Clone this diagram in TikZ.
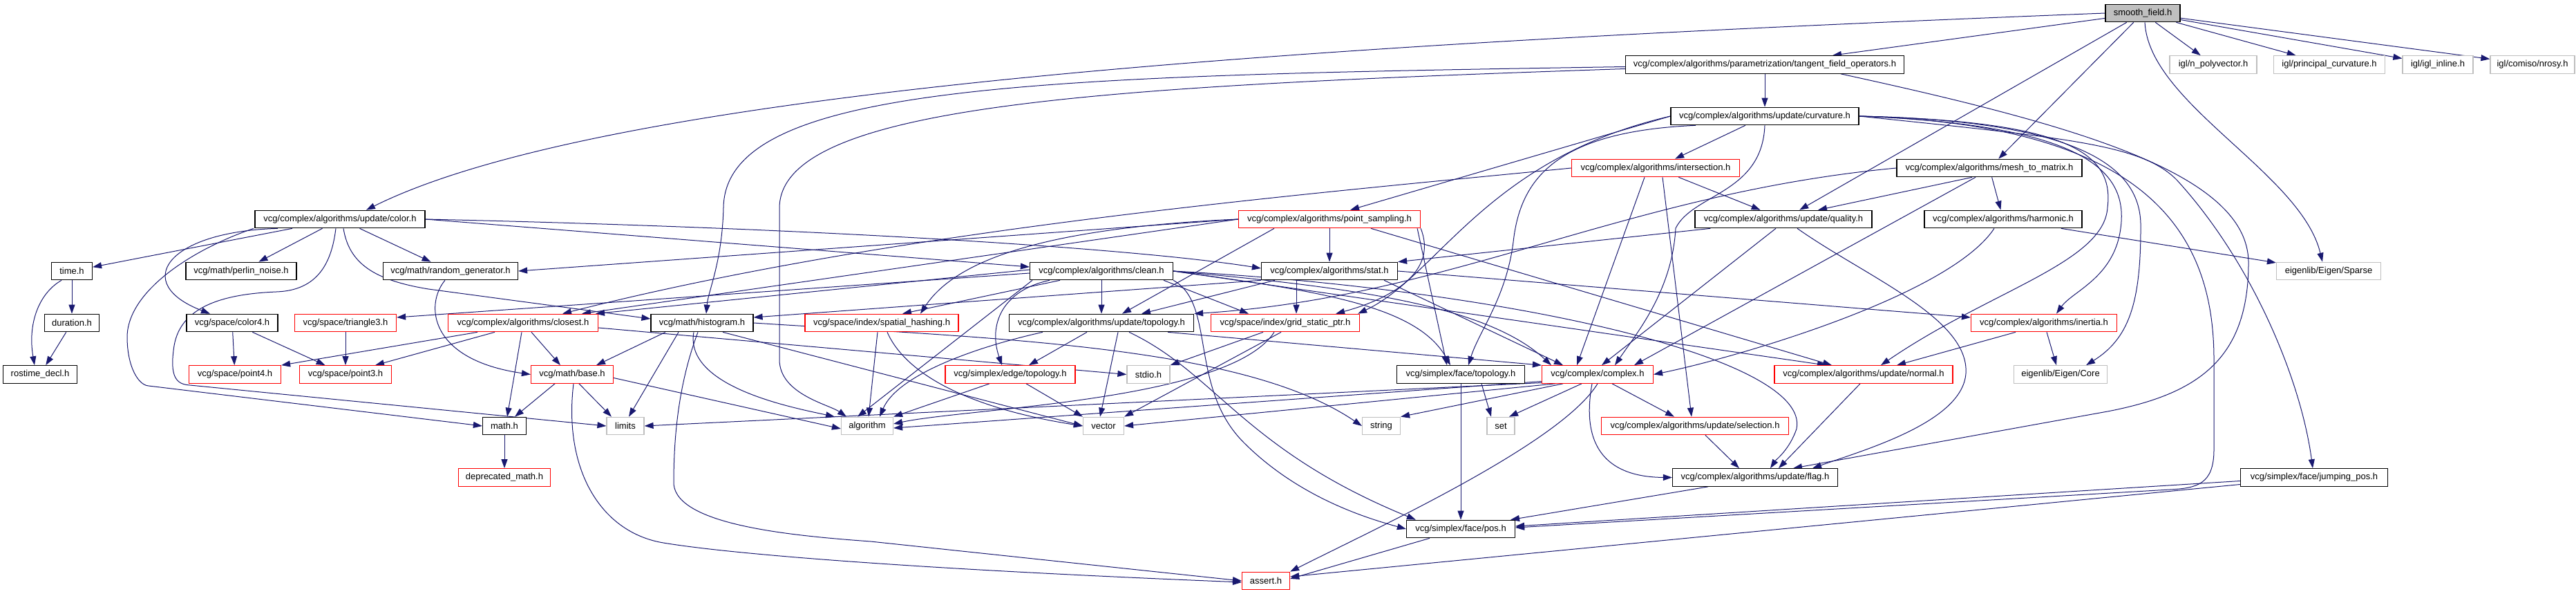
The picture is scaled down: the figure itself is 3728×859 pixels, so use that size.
\documentclass[tikz,border=0pt]{standalone}
\usepackage{fontspec}
\setmainfont{Liberation Sans}
\usetikzlibrary{arrows.meta}
\definecolor{edgec}{HTML}{191970}
\definecolor{redc}{HTML}{FF0000}
\definecolor{grayc}{HTML}{BFBFBF}
\pgfdeclarelayer{bg}
\pgfsetlayers{bg,main}
\tikzset{
 nd/.style={rectangle, minimum height=25.5pt, inner sep=0pt, line width=1.2pt, fill=white, text=black, font=\fontsize{13}{15}\selectfont},
 nb/.style={nd, draw=black},
 nr/.style={nd, draw=redc},
 ng/.style={nd, draw=grayc},
 nroot/.style={nd, draw=black, fill=grayc},
 edg/.style={draw=edgec, line width=1pt, -{Triangle[length=13pt,width=9pt]}},
}
\begin{document}
\begin{tikzpicture}[x=1pt,y=-1pt]
\useasboundingbox (0,0) rectangle (3728,859);
% row 0
\node[nroot, minimum width=108pt] (smooth) at (3101,19) {smooth\_field.h};
% row 1
\node[nb, minimum width=403pt] (tangent) at (2554,93.5) {vcg/complex/algorithms/parametrization/tangent\_field\_operators.h};
\node[ng, minimum width=126pt] (npoly) at (3203,93.5) {igl/n\_polyvector.h};
\node[ng, minimum width=161pt] (princ) at (3371,93.5) {igl/principal\_curvature.h};
\node[ng, minimum width=102pt] (iglinl) at (3528,93.5) {igl/igl\_inline.h};
\node[ng, minimum width=122pt] (nrosy) at (3665,93.5) {igl/comiso/nrosy.h};
% row 2
\node[nb, minimum width=272pt] (curv) at (2554,168) {vcg/complex/algorithms/update/curvature.h};
% row 3
\node[nr, minimum width=243pt] (inters) at (2396,243) {vcg/complex/algorithms/intersection.h};
\node[nb, minimum width=268pt] (m2m) at (2879,243) {vcg/complex/algorithms/mesh\_to\_matrix.h};
% row 4
\node[nb, minimum width=246pt] (color) at (492,317) {vcg/complex/algorithms/update/color.h};
\node[nr, minimum width=263pt] (psamp) at (1924,317) {vcg/complex/algorithms/point\_sampling.h};
\node[nb, minimum width=256pt] (quality) at (2581,317) {vcg/complex/algorithms/update/quality.h};
\node[nb, minimum width=228pt] (harm) at (2899,317) {vcg/complex/algorithms/harmonic.h};
% row 5
\node[nb, minimum width=59pt] (time) at (104,392) {time.h};
\node[nb, minimum width=160pt] (perlin) at (349,392) {vcg/math/perlin\_noise.h};
\node[nb, minimum width=195pt] (rand) at (652,392) {vcg/math/random\_generator.h};
\node[nb, minimum width=207pt] (clean) at (1594,392) {vcg/complex/algorithms/clean.h};
\node[nb, minimum width=197pt] (stat) at (1924,392) {vcg/complex/algorithms/stat.h};
\node[ng, minimum width=151pt] (sparse) at (3370,392) {eigenlib/Eigen/Sparse};
% row 6
\node[nb, minimum width=79pt] (duration) at (104,467) {duration.h};
\node[nb, minimum width=132pt] (color4) at (336,467) {vcg/space/color4.h};
\node[nr, minimum width=147pt] (tri3) at (500,467) {vcg/space/triangle3.h};
\node[nr, minimum width=217pt] (closest) at (757,467) {vcg/complex/algorithms/closest.h};
\node[nb, minimum width=148pt] (hist) at (1016,467) {vcg/math/histogram.h};
\node[nr, minimum width=222pt] (spatial) at (1276,467) {vcg/space/index/spatial\_hashing.h};
\node[nb, minimum width=267pt] (utopo) at (1594,467) {vcg/complex/algorithms/update/topology.h};
\node[nr, minimum width=215pt] (grid) at (1860,467) {vcg/space/index/grid\_static\_ptr.h};
\node[nr, minimum width=211pt] (inertia) at (2958,467) {vcg/complex/algorithms/inertia.h};
% row 7
\node[nb, minimum width=107pt] (rostime) at (58,541.5) {rostime\_decl.h};
\node[nr, minimum width=133pt] (point4) at (340,541.5) {vcg/space/point4.h};
\node[nr, minimum width=133pt] (point3) at (500,541.5) {vcg/space/point3.h};
\node[nr, minimum width=119pt] (base) at (828,541.5) {vcg/math/base.h};
\node[nr, minimum width=188pt] (etopo) at (1462,541.5) {vcg/simplex/edge/topology.h};
\node[ng, minimum width=62pt] (stdio) at (1662,541.5) {stdio.h};
\node[nb, minimum width=185pt] (ftopo) at (2114,541.5) {vcg/simplex/face/topology.h};
\node[nr, minimum width=161pt] (complex) at (2312,541.5) {vcg/complex/complex.h};
\node[nr, minimum width=258pt] (normal) at (2697,541.5) {vcg/complex/algorithms/update/normal.h};
\node[ng, minimum width=135pt] (core) at (2982,541.5) {eigenlib/Eigen/Core};
% row 8
\node[nb, minimum width=63pt] (mathh) at (730,616) {math.h};
\node[ng, minimum width=54pt] (limits) at (905,616) {limits};
\node[ng, minimum width=75pt] (algo) at (1255,616) {algorithm};
\node[ng, minimum width=59pt] (vector) at (1597,616) {vector};
\node[ng, minimum width=55pt] (string) at (1999,616) {string};
\node[ng, minimum width=40pt] (set) at (2172,616) {set};
\node[nr, minimum width=271pt] (select) at (2453,616) {vcg/complex/algorithms/update/selection.h};
% row 9
\node[nr, minimum width=133pt] (depmath) at (730,690.5) {deprecated\_math.h};
\node[nb, minimum width=239pt] (flag) at (2540,690.5) {vcg/complex/algorithms/update/flag.h};
\node[nb, minimum width=213pt] (jump) at (3349,690.5) {vcg/simplex/face/jumping\_pos.h};
% row 10
\node[nb, minimum width=157pt] (pos) at (2114,765) {vcg/simplex/face/pos.h};
% row 11
\node[nr, minimum width=69pt] (assert) at (1832,840) {assert.h};

\begin{pgfonlayer}{bg}
% smooth_field
\draw[edg] (smooth) -- (tangent);
\draw[edg] (smooth.west) .. controls (2000,60) and (900,120) .. ([xshift=38]color.north);
\draw[edg] (smooth) -- (quality);
\draw[edg] (smooth) -- (m2m);
\draw[edg] (smooth) -- (npoly);
\draw[edg] (smooth) -- (princ);
\draw[edg] (smooth) -- (iglinl);
\draw[edg] (smooth) -- (nrosy);
\draw[edg] ([xshift=3]smooth.south) .. controls (3110,150) and (3330,250) .. ([xshift=-9]sparse.north);
% tangent
\draw[edg] (tangent) -- (curv);
\draw[edg] ([yshift=-3]tangent.west) .. controls (1500,110) and (1050,120) .. (1047,300) .. controls (1045,380) and (1025,420) .. ([xshift=6]hist.north);
\draw[edg] ([yshift=-6]tangent.west) .. controls (1600,125) and (1130,150) .. (1128,300) -- (1128,520) .. controls (1128,570) and (1200,585) .. ([xshift=-30]algo.north);
\draw[edg] ([xshift=110]tangent.south) .. controls (3000,180) and (3254,250) .. (3254,380) .. controls (3254,520) and (3180,570) .. (3050,595) -- ([xshift=55]flag.north);
% curvature
\draw[edg] (curv) -- (inters);
\draw[edg] (curv.west) -- ([xshift=30]psamp.north);
\draw[edg] ([xshift=-100]curv.south) .. controls (2250,190) and (2200,260) .. (2190,350) .. controls (2180,430) and (2140,480) .. ([xshift=11]ftopo.north);
\draw[edg] (curv.west) .. controls (2150,230) and (2080,400) .. ([xshift=-3]grid.north east);
\draw[edg] (curv.east) .. controls (3000,180) and (3075,240) .. (3070,320) .. controls (3065,400) and (3000,420) .. ([xshift=18]inertia.north);
\draw[edg] (curv.east) .. controls (3030,175) and (3100,250) .. (3098,330) .. controls (3098,440) and (3080,490) .. ([xshift=37]core.north);
\draw[edg] (curv.east) .. controls (3000,200) and (3100,210) .. (3150,260) .. controls (3260,380) and (3330,550) .. ([xshift=-2]jump.north);
\draw[edg] (curv.east) .. controls (3100,180) and (3204,330) .. (3204,520) -- (3204,650) .. controls (3204,700) and (3180,706) .. (3140,708) -- ([yshift=2]pos.east);
\draw[edg] (curv.east) .. controls (2990,175) and (3060,220) .. (3050,300) .. controls (3045,380) and (2880,420) .. ([xshift=25]normal.north);
\draw[edg] (curv.south) .. controls (2550,280) and (2450,280) .. (2425,330) .. controls (2420,420) and (2370,480) .. ([xshift=25]complex.north);
% intersection
\draw[edg] (inters) -- (quality);
\draw[edg] (inters.west) .. controls (1900,280) and (1300,330) .. ([xshift=57]closest.north);
\draw[edg] ([xshift=-16]inters.south) -- ([xshift=-30]complex.north);
\draw[edg] ([xshift=10]inters.south) -- ([xshift=-5]select.north);
% mesh_to_matrix
\draw[edg] ([xshift=-25]m2m.south) -- ([xshift=50]quality.north);
\draw[edg] (m2m) -- (harm);
\draw[edg] ([xshift=-20]m2m.south) -- ([xshift=53]complex.north);
\draw[edg] (m2m.west) .. controls (2350,280) and (2100,430) .. (utopo.north east);
% point_sampling
\draw[edg] (psamp) -- (stat);
\draw[edg] (psamp.west) -- (rand.east);
\draw[edg] (psamp.west) -- ([xshift=85]closest.north);
\draw[edg] (psamp.west) .. controls (1500,330) and (1380,380) .. ([xshift=56]spatial.north);
\draw[edg] ([xshift=-80]psamp.south) -- ([xshift=30]utopo.north);
\draw[edg] (psamp.south east) .. controls (2080,390) and (2020,430) .. ([xshift=-35]grid.north east);
\draw[edg] ([xshift=-5]psamp.south east) -- ([xshift=-20]ftopo.north);
\draw[edg] ([xshift=60]psamp.south) -- ([xshift=-46]normal.north);
% quality
\draw[edg] ([xshift=23]quality.south west) -- (stat.north east);
\draw[edg] ([xshift=-11]quality.south) -- ([xshift=6]complex.north);
\draw[edg] ([xshift=20]quality.south) .. controls (2700,400) and (2850,460) .. (2845,540) .. controls (2840,610) and (2700,650) .. ([xshift=83]flag.north);
% harmonic
\draw[edg] (harm) -- (sparse);
\draw[edg] ([xshift=-13]harm.south) .. controls (2820,430) and (2500,520) .. (complex.east);
% color
\draw[edg] (color) -- (time);
\draw[edg] (color) -- (perlin);
\draw[edg] (color) -- (rand);
\draw[edg] ([xshift=-90]color.south) .. controls (240,335) and (190,410) .. ([xshift=-32]color4.north);
\draw[edg] ([xshift=-125]color.south) .. controls (280,360) and (185,420) .. (184,487) .. controls (184,530) and (200,557) .. (215,558) -- (mathh.west);
\draw[edg] ([xshift=-6]color.south) .. controls (480,380) and (460,420) .. (400,422) .. controls (330,425) and (262,440) .. (252,500) .. controls (245,545) and (255,556) .. (275,557) -- (limits.west);
\draw[edg] ([xshift=5]color.south) .. controls (505,380) and (540,405) .. (620,418) -- ([yshift=6]hist.west);
\draw[edg] (color.east) -- ([yshift=6]clean.west);
\draw[edg] (color.east) .. controls (1200,330) and (1650,360) .. ([yshift=4]stat.west);
% time
\draw[edg] (time) -- (duration);
\draw[edg] ([xshift=-15]time.south) .. controls (55,425) and (40,470) .. ([xshift=-8]rostime.north);
\draw[edg] (duration) -- (rostime);
% random generator
\draw[edg] ([xshift=-8]rand.south) .. controls (615,440) and (620,520) .. (base.west);
% color4, triangle3
\draw[edg] (color4) -- (point4);
\draw[edg] (color4) -- (point3);
\draw[edg] (tri3) -- (point3);
% closest
\draw[edg] ([xshift=-66]closest.south) -- (point4.north east);
\draw[edg] ([xshift=-41]closest.south) -- ([xshift=43]point3.north);
\draw[edg] ([xshift=-2]closest.south) -- ([xshift=4]mathh.north);
\draw[edg] ([xshift=12]closest.south) -- ([xshift=-17]base.north);
\draw[edg] ([yshift=-7]closest.east) -- (stdio.west);
% histogram
\draw[edg] ([xshift=-53]hist.south) -- ([xshift=35]base.north);
\draw[edg] ([xshift=-34]hist.south) -- ([xshift=5]limits.north);
\draw[edg] ([xshift=-12]hist.south) .. controls (990,560) and (1150,590) .. ([xshift=-47]algo.north);
\draw[edg] ([xshift=-6]hist.south) .. controls (980,560) and (975,640) .. (975,700) .. controls (980,760) and (1150,775) .. (1260,783) -- (assert.west);
\draw[edg] ([xshift=30]hist.south) -- (vector.west);
\draw[edg] (hist.east) .. controls (1450,490) and (1800,500) .. (string.west);
% base
\draw[edg] ([xshift=-25]base.south) -- ([xshift=15]mathh.north);
\draw[edg] ([xshift=10]base.south) -- ([xshift=-20]limits.north);
\draw[edg] ([yshift=-5]base.east) -- ([yshift=-4]algo.west);
\draw[edg] ([xshift=2]base.south) .. controls (815,680) and (870,770) .. (960,785) .. controls (1050,800) and (1300,822) .. ([yshift=-2]assert.west);
\draw[edg] (mathh) -- (depmath);
% spatial hashing
\draw[edg] ([xshift=-6]spatial.south) -- ([xshift=2]algo.north);
\draw[edg] ([xshift=8]spatial.south) .. controls (1310,540) and (1400,590) .. (vector.west);
% update topology
\draw[edg] ([xshift=-21]utopo.south) -- ([xshift=27]etopo.north);
\draw[edg] ([xshift=-85]utopo.south) .. controls (1420,500) and (1300,540) .. ([xshift=18]algo.north);
\draw[edg] ([xshift=24]utopo.south) -- ([xshift=-5]vector.north);
\draw[edg] ([xshift=40]utopo.south) .. controls (1760,540) and (1800,650) .. ([xshift=14]pos.north west);
\draw[edg] ([xshift=96]utopo.south) -- (complex.north west);
% grid
\draw[edg] ([xshift=-32]grid.south) -- (stdio.north east);
\draw[edg] ([xshift=-16]grid.south) .. controls (1780,580) and (1400,590) .. ([yshift=3]algo.east);
\draw[edg] ([xshift=-6]grid.south) -- (vector.north east);
% edge topology
\draw[edg] ([xshift=-30]etopo.south) -- (algo.north east);
\draw[edg] ([xshift=23]etopo.south) -- (vector.north west);
% inertia
\draw[edg] ([xshift=-41]inertia.south) -- ([xshift=48]normal.north);
\draw[edg] ([xshift=4]inertia.south) -- ([xshift=-6]core.north);
% face topology
\draw[edg] ([xshift=30]ftopo.south) -- ([xshift=-14]set.north);
\draw[edg] (ftopo) -- (pos);
% complex
\draw[edg] ([yshift=-10]complex.west) -- ([yshift=-3]algo.east);
\draw[edg] ([xshift=20]complex.south west) -- (vector.east);
\draw[edg] ([yshift=-12]complex.west) -- (limits.east);
\draw[edg] ([xshift=-50]complex.south) -- (string.north east);
\draw[edg] ([xshift=-23]complex.south) -- ([xshift=12]set.north);
\draw[edg] (complex.south) .. controls (2260,640) and (2000,760) .. (assert.north east);
\draw[edg] ([xshift=-8]complex.south) .. controls (2285,660) and (2340,690) .. (flag.west);
\draw[edg] ([xshift=21]complex.south) -- ([xshift=-30]select.north);
% normal, selection, flag, jumping_pos, pos
\draw[edg] ([xshift=-5]normal.south) -- ([xshift=34]flag.north);
\draw[edg] ([xshift=15]select.south) -- ([xshift=-23]flag.north);
\draw[edg] ([xshift=-68]flag.south) -- ([xshift=72]pos.north);
\draw[edg] ([yshift=-5]jump.west) -- ([yshift=4]pos.east);
\draw[edg] ([yshift=-10]jump.west) -- ([yshift=6]assert.east);
\draw[edg] ([xshift=-45]pos.south) -- ([yshift=3]assert.east);
% clean
\draw[edg] (clean) -- (utopo);
\draw[edg] ([xshift=-60]clean.south) -- ([xshift=30]spatial.north);
\draw[edg] ([xshift=90]clean.south) -- ([xshift=-53]grid.north);
\draw[edg] ([yshift=-3]clean.west) -- ([yshift=8]tri3.east);
\draw[edg] ([yshift=2]clean.west) -- ([xshift=105]closest.north);
\draw[edg] ([xshift=-75]clean.south) .. controls (1450,420) and (1430,470) .. ([xshift=-12]etopo.north);
\draw[edg] (clean.east) .. controls (1900,420) and (2050,440) .. ([xshift=-15]ftopo.north);
\draw[edg] (clean.east) .. controls (1950,415) and (2150,440) .. ([xshift=-67]complex.north);
\draw[edg] (clean.east) .. controls (2200,420) and (2620,520) .. (2600,620) .. controls (2590,650) and (2570,665) .. ([xshift=22]flag.north);
\draw[edg] (clean.east) -- ([xshift=-54]normal.north);
\draw[edg] (clean.south east) .. controls (1760,440) and (1720,560) .. (1800,640) .. controls (1880,720) and (1980,750) .. (pos.west);
\draw[edg] ([xshift=-100]clean.south) -- ([xshift=-14]algo.north);
% stat
\draw[edg] (stat.south west) -- ([yshift=8]hist.east);
\draw[edg] (stat.east) -- ([yshift=8]inertia.west);
\draw[edg] ([xshift=20]stat.south west) -- ([xshift=58]utopo.north);
\draw[edg] ([xshift=-48]stat.south) -- ([xshift=16]grid.north);
\draw[edg] ([xshift=-20]stat.south east) -- ([xshift=-50]complex.north);
\end{pgfonlayer}
\end{tikzpicture}
\end{document}
